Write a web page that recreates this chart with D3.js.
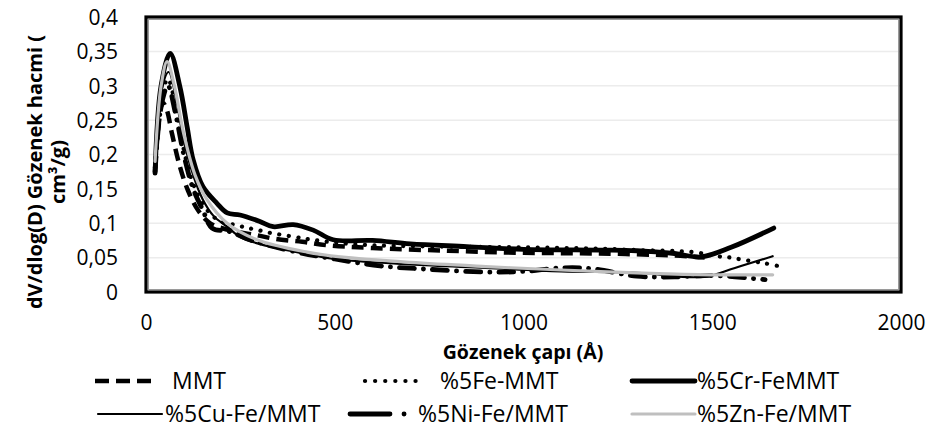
<!DOCTYPE html>
<html><head><meta charset="utf-8">
<script src="https://cdn.jsdelivr.net/npm/d3@7"></script>
<style>
html,body{margin:0;padding:0;background:#fff;}
svg{display:block;}
</style></head>
<body>
<svg id="chart" width="932" height="433"></svg>
<script>
// ---- data ----
const seriesNames = ["MMT", "%5Fe-MMT", "%5Cr-FeMMT", "%5Cu-Fe/MMT", "%5Ni-Fe/MMT", "%5Zn-Fe/MMT"];

const mmtX = [24, 35, 45, 55, 69, 90, 111, 138, 170, 220, 290, 345, 414, 480, 600, 800, 1000, 1200, 1400, 1480];
const mmtY = [0.18, 0.25, 0.275, 0.265, 0.23, 0.182, 0.148, 0.119, 0.1, 0.09, 0.083, 0.077, 0.073, 0.068, 0.064, 0.06, 0.057, 0.056, 0.053, 0.05];

const feX = [24, 40, 58, 75, 95, 120, 150, 190, 241, 271, 297, 329, 395, 427, 500, 600, 800, 1000, 1200, 1300, 1450, 1514, 1549, 1580, 1637, 1673];
const feY = [0.18, 0.28, 0.31, 0.28, 0.22, 0.165, 0.128, 0.105, 0.097, 0.093, 0.09, 0.086, 0.08, 0.077, 0.072, 0.068, 0.066, 0.065, 0.063, 0.061, 0.058, 0.052, 0.05, 0.047, 0.042, 0.038];

const crX = [24, 40, 64, 90, 109, 125, 151, 188, 215, 249, 300, 337, 390, 443, 496, 600, 700, 850, 1000, 1200, 1300, 1400, 1470, 1550, 1663];
const crY = [0.173, 0.3, 0.347, 0.298, 0.24, 0.192, 0.153, 0.129, 0.115, 0.112, 0.103, 0.095, 0.098, 0.09, 0.076, 0.075, 0.07, 0.066, 0.062, 0.061, 0.06, 0.056, 0.051, 0.065, 0.093];

const cuX = [24, 40, 60, 80, 100, 125, 150, 180, 215, 249, 300, 400, 500, 700, 900, 1100, 1300, 1478, 1560, 1660];
const cuY = [0.18, 0.29, 0.32, 0.28, 0.22, 0.17, 0.135, 0.11, 0.095, 0.08, 0.07, 0.058, 0.048, 0.04, 0.035, 0.03, 0.028, 0.022, 0.035, 0.052];

const niX = [24, 40, 58, 78, 100, 125, 150, 175, 220, 280, 400, 500, 620, 750, 900, 1000, 1100, 1180, 1300, 1400, 1500, 1640];
const niY = [0.175, 0.27, 0.3, 0.26, 0.2, 0.15, 0.12, 0.093, 0.088, 0.075, 0.058, 0.048, 0.038, 0.033, 0.029, 0.03, 0.035, 0.034, 0.023, 0.022, 0.024, 0.018];

const znX = [24, 40, 56, 75, 100, 130, 162, 215, 294, 427, 515, 700, 900, 1100, 1337, 1500, 1660];
const znY = [0.19, 0.3, 0.335, 0.3, 0.23, 0.17, 0.134, 0.1, 0.076, 0.058, 0.051, 0.043, 0.037, 0.032, 0.027, 0.025, 0.025];

const xTicks = [0, 500, 1000, 1500, 2000];
const yTicks = [0, 0.05, 0.1, 0.15, 0.2, 0.25, 0.3, 0.35, 0.4];
const xTitle = "Gözenek çapı (Å)";
const yTitle1 = "dV/dlog(D) Gözenek hacmi (";
const yTitle2 = "cm³/g)";

// ---- styles ----
const styles = [
  {stroke:"#000", width:4.5, dash:"12,7", cap:"butt"},
  {stroke:"#000", width:4.2, dash:"0.1,9.5", cap:"round"},
  {stroke:"#000", width:4.8, dash:null, cap:"round"},
  {stroke:"#000", width:2.2, dash:null, cap:"round"},
  {stroke:"#000", width:4.8, dash:"15,9,0.1,9", cap:"round"},
  {stroke:"#bfbfbf", width:3.2, dash:null, cap:"round"}
];
const xs = [mmtX, feX, crX, cuX, niX, znX];
const ys = [mmtY, feY, crY, cuY, niY, znY];

const svg = d3.select("#chart");
const L = 146, R = 901, T = 17, B = 292;
const x = d3.scaleLinear().domain([0, 2000]).range([L, R]);
const y = d3.scaleLinear().domain([0, 0.4]).range([B, T]);
const fmt = d => d3.format("")(d).replace(".", ",");

// gridlines
svg.append("g").selectAll("line").data(yTicks.slice(1, -1)).join("line")
  .attr("x1", L).attr("x2", R).attr("y1", d => y(d)).attr("y2", d => y(d))
  .attr("stroke", "#ececec").attr("stroke-width", 1.5);

// axes labels via d3 axes
const yAxis = svg.append("g").attr("transform", `translate(${L - 28},0)`)
  .call(d3.axisLeft(y).tickValues(yTicks).tickFormat(fmt).tickSize(0).tickPadding(0));
yAxis.select(".domain").remove();
yAxis.selectAll("text").attr("font-family", "'Open Sans', sans-serif").attr("font-size", 21).attr("fill", "#000").attr("dy", "0.35em");

const xAxis = svg.append("g").attr("transform", `translate(0,${B + 23})`)
  .call(d3.axisBottom(x).tickValues(xTicks).tickFormat(d3.format("d")).tickSize(0).tickPadding(0));
xAxis.select(".domain").remove();
xAxis.selectAll("text").attr("font-family", "'Open Sans', sans-serif").attr("font-size", 21).attr("fill", "#000").attr("dy", "0.72em");

// series
const line = d3.line().x(d => x(d[0])).y(d => y(d[1])).curve(d3.curveCatmullRom.alpha(0.5));
svg.append("clipPath").attr("id", "pc").append("rect")
  .attr("x", L).attr("y", T).attr("width", R - L).attr("height", B - T);
const gS = svg.append("g").attr("clip-path", "url(#pc)");
seriesNames.forEach((n, i) => {
  const pts = xs[i].map((v, j) => [v, ys[i][j]]);
  const s = styles[i];
  gS.append("path").attr("d", line(pts)).attr("fill", "none")
    .attr("stroke", s.stroke).attr("stroke-width", s.width)
    .attr("stroke-dasharray", s.dash).attr("stroke-linecap", s.cap)
    .attr("stroke-linejoin", "round");
});

// plot border (double)
svg.append("rect").attr("x", L).attr("y", T).attr("width", R - L).attr("height", B - T)
  .attr("fill", "none").attr("stroke", "#000").attr("stroke-width", 3.2);
svg.append("rect").attr("x", L + 2.5).attr("y", T + 2.5).attr("width", R - L - 5).attr("height", B - T - 5)
  .attr("fill", "none").attr("stroke", "#9a9a9a").attr("stroke-width", 1);

// titles
svg.append("text").attr("x", 523).attr("y", 359).attr("text-anchor", "middle")
  .attr("font-family", "'Open Sans', sans-serif").attr("font-weight", "bold").attr("font-size", 19.5)
  .text(xTitle);
const yt = svg.append("g").attr("transform", "translate(0,172) rotate(-90)");
yt.append("text").attr("x", 0).attr("y", 42).attr("text-anchor", "middle")
  .attr("font-family", "'Open Sans', sans-serif").attr("font-weight", "bold").attr("font-size", 20)
  .text(yTitle1);
yt.append("text").attr("x", 0).attr("y", 65).attr("text-anchor", "middle")
  .attr("font-family", "'Open Sans', sans-serif").attr("font-weight", "bold").attr("font-size", 20)
  .text(yTitle2);

// legend
const legendPos = [
  {lx:95, tx:172, y:381}, {lx:365, tx:440, y:381}, {lx:632, tx:697, y:381},
  {lx:98, tx:165, y:414}, {lx:350, tx:418, y:414}, {lx:632, tx:697, y:414}
];
const lgDash = ["14,7", "0.1,10", null, null, "40,14,0.1,10", null];
const lgLen = [60, 60, 63, 64, 60, 63];
const gL = svg.append("g");
seriesNames.forEach((n, i) => {
  const p = legendPos[i], s = styles[i];
  gL.append("line").attr("x1", p.lx).attr("x2", p.lx + lgLen[i]).attr("y1", p.y).attr("y2", p.y)
    .attr("stroke", s.stroke).attr("stroke-width", s.width)
    .attr("stroke-dasharray", lgDash[i]).attr("stroke-linecap", s.cap);
  gL.append("text").attr("x", p.tx).attr("y", p.y).attr("dy", "0.35em")
    .attr("font-family", "'Liberation Sans Narrow', 'Open Sans', sans-serif").attr("font-size", 23)
    .text(n);
});
</script>
</body></html>
